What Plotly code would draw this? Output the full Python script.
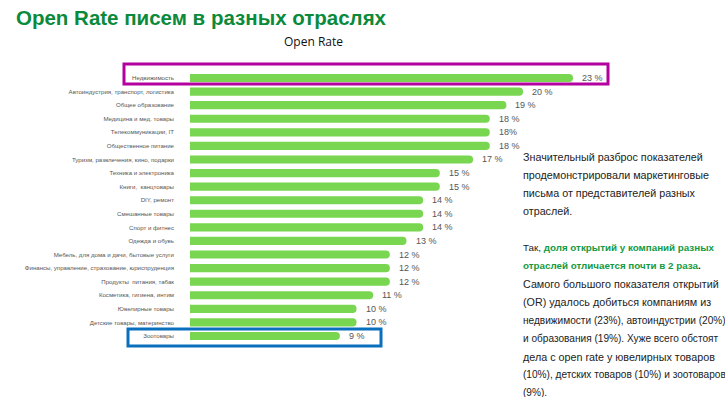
import plotly.graph_objects as go

categories = [
    "Недвижимость",
    "Автоиндустрия, транспорт, логистика",
    "Общее образование",
    "Медицина и мед. товары",
    "Телекоммуникации, IT",
    "Общественное питание",
    "Туризм, развлечения, кино, подарки",
    "Техника и электроника",
    "Книги,  канцтовары",
    "DIY, ремонт",
    "Смешанные товары",
    "Спорт и фитнес",
    "Одежда и обувь",
    "Мебель, для дома и дачи, бытовые услуги",
    "Финансы, управление, страхование, юриспруденция",
    "Продукты  питания, табак",
    "Косметика, гигиена, интим",
    "Ювелирные товары",
    "Детские товары, материнство",
    "Зоотовары",
]
values = [23, 20, 19, 18, 18, 18, 17, 15, 15, 14, 14, 14, 13, 12, 12, 12, 11, 10, 10, 9]
value_labels = ["23 %", "20 %", "19 %", "18 %", "18%", "18 %", "17 %", "15 %", "15 %", "14 %",
                "14 %", "14 %", "13 %", "12 %", "12 %", "12 %", "11 %", "10 %", "10 %", "9 %"]

title_text = "Open Rate писем в разных отраслях"
chart_title = "Open Rate"
GREEN_T = "#0b8a3b"
HL = "<b><span style='color:#149a42'>{}</span></b>"
paragraph_lines = [
    "Значительный разброс показателей",
    "продемонстрировали маркетинговые",
    "письма от представителей разных",
    "отраслей.",
    "",
    "Так, " + HL.format("доля открытий у компаний разных"),
    HL.format("отраслей отличается почти в 2 раза") + "<b>.</b>",
    "Самого большого показателя открытий",
    "(OR) удалось добиться компаниям из",
    "недвижимости (23%), автоиндустрии (20%)",
    "и образования (19%). Хуже всего обстоят",
    "дела с open rate у ювелирных товаров",
    "(10%), детских товаров (10%) и зоотоваров",
    "(9%).",
]


def line_size(line):
    # font metrics differ from the original; tune per line style to keep line widths
    if "<b>" in line:
        return 9.8
    if "%" in line:
        return 10.1
    return 10.75


W, H = 725, 397
L, R, T, B = 190, 102, 71, 54
PW, PH = W - L - R, H - T - B


def px(x):
    return (x - L) / PW


def py(y):
    return (H - B - y) / PH


fig = go.Figure()
fig.add_trace(go.Bar(
    x=values, y=categories, orientation="h",
    marker=dict(color="#79d650", cornerradius=4, line=dict(width=0)),
    width=0.6, hoverinfo="skip",
))

annotations = []
for v, c, t in zip(values, categories, value_labels):
    annotations.append(dict(x=v, y=c, xref="x", yref="y", text=t, showarrow=False,
                            xanchor="left", xshift=7,
                            font=dict(family="Liberation Sans, Arial", size=9, color="#555555")))

annotations.append(dict(x=px(14), y=py(17), xref="paper", yref="paper", text="<b>" + title_text + "</b>",
                        showarrow=False, xanchor="left", yanchor="middle",
                        font=dict(family="Liberation Sans, Arial", size=20.5, color=GREEN_T)))
annotations.append(dict(x=px(313), y=py(42), xref="paper", yref="paper", text=chart_title,
                        showarrow=False, xanchor="center", yanchor="middle",
                        font=dict(family="Open Sans, Arial", size=12, color="#111111")))

for i, line in enumerate(paragraph_lines):
    if not line:
        continue
    annotations.append(dict(x=px(521), y=py(157 + i * 18.15), xref="paper", yref="paper", text=line,
                            showarrow=False, xanchor="left", yanchor="middle",
                            font=dict(family="Liberation Sans, Arial", size=line_size(line),
                                      color="#222222")))

shapes = [
    dict(type="rect", xref="paper", yref="paper", x0=px(124), x1=px(608), y0=py(64), y1=py(84),
         line=dict(color="#b3009f", width=3)),
    dict(type="rect", xref="paper", yref="paper", x0=px(128), x1=px(381), y0=py(329), y1=py(346),
         line=dict(color="#0a70bd", width=3)),
]

fig.update_layout(
    width=W, height=H,
    margin=dict(l=L, r=R, t=T, b=B, pad=0),
    paper_bgcolor="white", plot_bgcolor="white",
    showlegend=False,
    bargap=0.4,
    annotations=annotations,
    shapes=shapes,
    xaxis=dict(range=[0, 26], visible=False, showgrid=False, zeroline=False),
    yaxis=dict(autorange="reversed", showgrid=False, zeroline=False, showline=False,
               ticks="", ticklabelstandoff=15,
               tickfont=dict(family="Liberation Sans, Arial", size=6.1, color="#555555")),
)

fig.write_html(
    "out.html",
    config={"displayModeBar": False},
    post_script="document.body.style.margin='0';document.body.style.overflow='hidden';",
)
